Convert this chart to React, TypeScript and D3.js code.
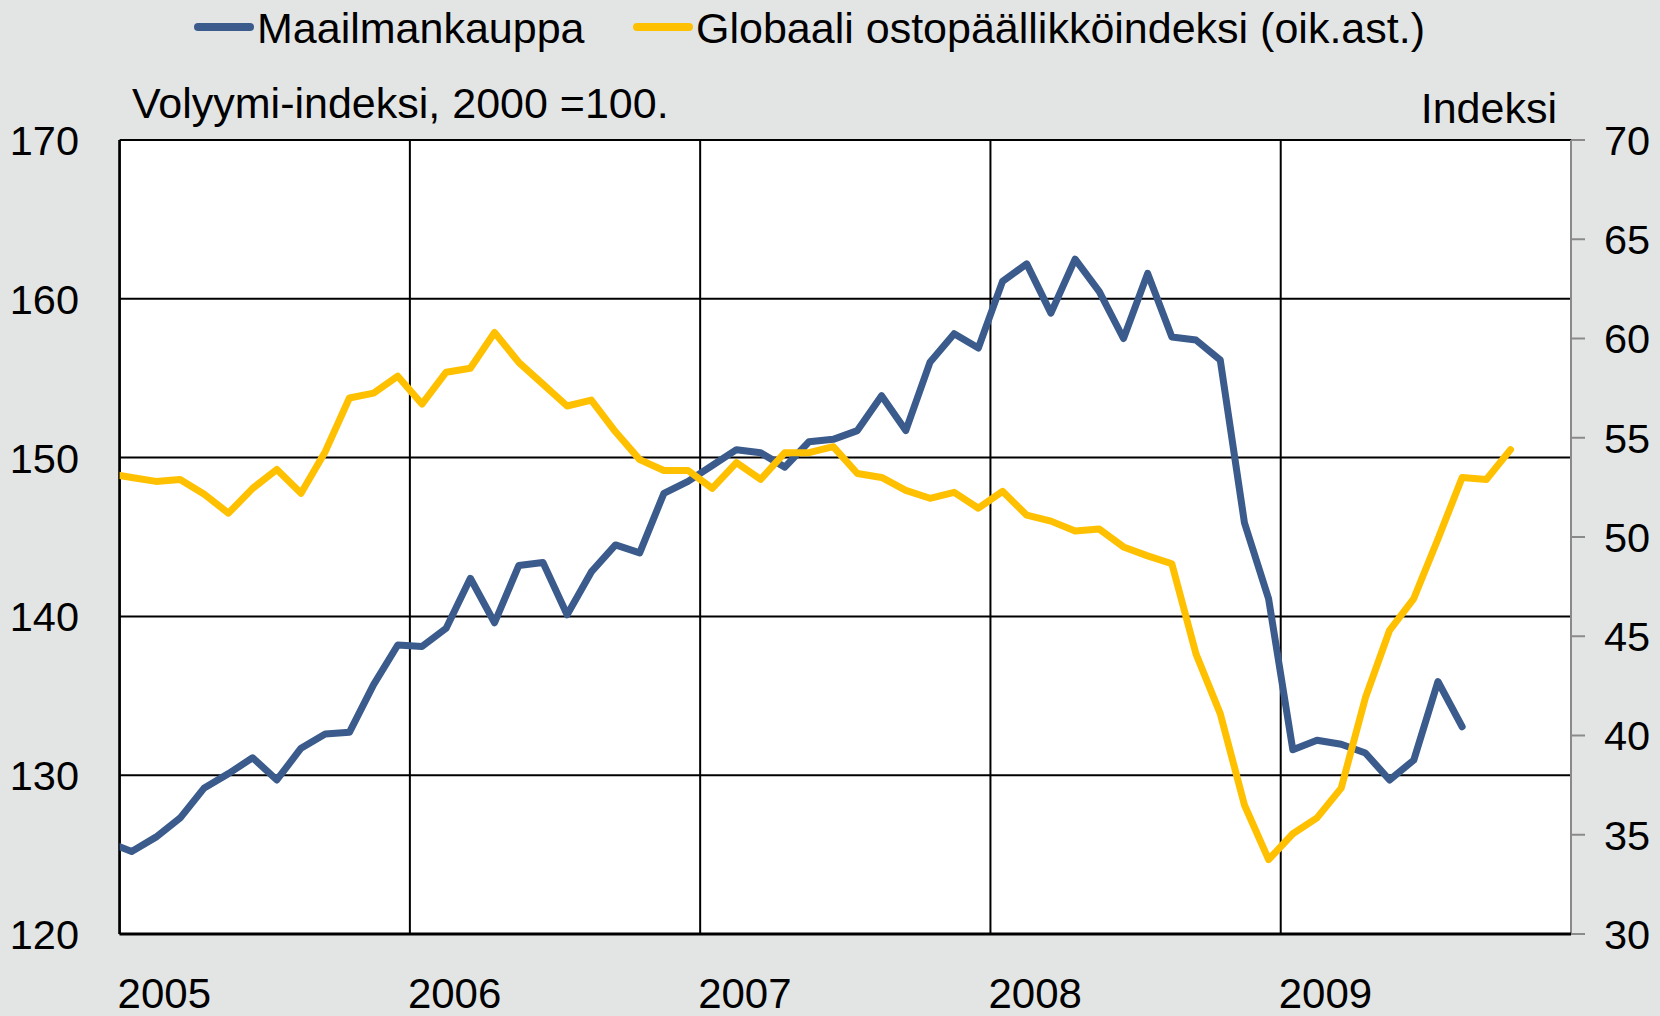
import React from "react";
import * as d3 from "d3";

// Monthly series, first value = Dec 2004
const startYear = 2004;
const startMonth = 11; // December (0-based)

const worldTrade: number[] = [
  125.8,
  125.2, 126.1, 127.3, 129.2, 130.1, 131.1, 129.7, 131.7, 132.6, 132.7, 135.7, 138.2,
  138.1, 139.25, 142.4, 139.6, 143.2, 143.4, 140.1, 142.8, 144.5, 144.0, 147.75, 148.5,
  149.5, 150.5, 150.3, 149.4, 151.0, 151.15, 151.7, 153.9, 151.7, 156.0, 157.8, 156.9,
  161.1, 162.2, 159.1, 162.5, 160.45, 157.5, 161.6, 157.6, 157.4, 156.15, 145.9, 141.1,
  131.6, 132.2, 131.95, 131.4, 129.7, 130.95, 135.9, 133.05,
];

const pmi: number[] = [
  53.2,
  53.0, 52.8, 52.9, 52.15, 51.2, 52.45, 53.4, 52.2, 54.3, 57.0, 57.25, 58.1,
  56.7, 58.3, 58.5, 60.3, 58.8, 57.7, 56.6, 56.9, 55.3, 53.9, 53.35, 53.35,
  52.45, 53.75, 52.9, 54.25, 54.25, 54.55, 53.2, 53.0, 52.35, 51.95, 52.25, 51.45,
  52.3, 51.1, 50.8, 50.3, 50.4, 49.5, 49.05, 48.65, 44.1, 41.1, 36.5, 33.75,
  35.05, 35.85, 37.35, 41.9, 45.3, 46.9, 49.9, 53.0, 52.9, 54.4,
];

const years = ["2005", "2006", "2007", "2008", "2009"];
const leftTicks = [120, 130, 140, 150, 160, 170];
const rightTicks = [30, 35, 40, 45, 50, 55, 60, 65, 70];

const seriesNames = ["Maailmankauppa", "Globaali ostopäällikköindeksi (oik.ast.)"];
const title = "Volyymi-indeksi, 2000 =100.";
const rightTitle = "Indeksi";

const BLUE = "#3A5B8C";
const YELLOW = "#FFC000";
const BG = "#E3E5E4";
const FONT = "'Liberation Sans', Arial, sans-serif";

export default function App() {
  const W = 1660;
  const H = 1016;
  const left = 119.6;
  const right = 1571;
  const top = 140;
  const bottom = 934;

  const x = d3.scaleLinear().domain([0, 60]).range([left, right]);
  const yL = d3.scaleLinear().domain([120, 170]).range([bottom, top]);
  const yR = d3.scaleLinear().domain([30, 70]).range([bottom, top]);

  // month offset relative to Jan 2005
  const offset = (startYear - 2005) * 12 + startMonth;
  const xi = (i: number) => x(offset + i + 0.5);

  const lineL = d3
    .line<number>()
    .x((_, i) => xi(i))
    .y((d) => yL(d));
  const lineR = d3
    .line<number>()
    .x((_, i) => xi(i))
    .y((d) => yR(d));

  return (
    <svg
      width={W}
      height={H}
      style={{ position: "absolute", left: 0, top: 0, display: "block" }}
      fontFamily={FONT}
    >
      <defs>
        <clipPath id="plotClip">
          <rect x={left} y={top - 10} width={right - left} height={bottom - top + 20} />
        </clipPath>
      </defs>
      <rect x={0} y={0} width={W} height={H} fill={BG} />
      <rect x={left} y={top} width={right - left} height={bottom - top} fill="#FFFFFF" />

      {/* horizontal gridlines */}
      {leftTicks.map((v) => (
        <line key={"h" + v} x1={left} x2={right} y1={yL(v)} y2={yL(v)} stroke="#000" strokeWidth={2} />
      ))}
      {/* vertical gridlines */}
      {years.map((yr, k) => (
        <line key={"v" + yr} x1={x(k * 12)} x2={x(k * 12)} y1={top} y2={bottom} stroke="#000" strokeWidth={2} />
      ))}
      {/* left axis */}
      <line x1={left} x2={left} y1={top} y2={bottom} stroke="#000" strokeWidth={2.5} />
      {/* right axis */}
      <line x1={right} x2={right} y1={top} y2={bottom} stroke="#8A8A8A" strokeWidth={2} />
      {rightTicks.map((v) => (
        <line key={"rt" + v} x1={right} x2={right + 14} y1={yR(v)} y2={yR(v)} stroke="#8A8A8A" strokeWidth={2} />
      ))}
      {/* bottom axis */}
      <line x1={left} x2={right} y1={bottom} y2={bottom} stroke="#000" strokeWidth={3} />

      {/* series */}
      <g clipPath="url(#plotClip)">
        <path d={lineL(worldTrade) || ""} fill="none" stroke={BLUE} strokeWidth={7} strokeLinejoin="round" strokeLinecap="round" />
        <path d={lineR(pmi) || ""} fill="none" stroke={YELLOW} strokeWidth={7} strokeLinejoin="round" strokeLinecap="round" />
      </g>

      {/* left tick labels */}
      {leftTicks.map((v) => (
        <text key={"lt" + v} x={79} y={yL(v)} dy="0.36em" textAnchor="end" fontSize={41.5} fill="#000">
          {v}
        </text>
      ))}
      {/* right tick labels */}
      {rightTicks.map((v) => (
        <text key={"rl" + v} x={1604} y={yR(v)} dy="0.36em" textAnchor="start" fontSize={41.5} fill="#000">
          {v}
        </text>
      ))}
      {/* year labels */}
      {years.map((yr, k) => (
        <text key={"yl" + yr} x={x(k * 12) - 2} y={1008} textAnchor="start" fontSize={42} fill="#000">
          {yr}
        </text>
      ))}

      {/* axis titles */}
      <text x={132} y={118} fontSize={43} fill="#000">{title}</text>
      <text x={1557} y={123} fontSize={43} textAnchor="end" fill="#000">{rightTitle}</text>

      {/* legend */}
      <line x1={198} x2={250} y1={27} y2={27} stroke={BLUE} strokeWidth={8} strokeLinecap="round" />
      <text x={257} y={43} fontSize={43} fill="#000">{seriesNames[0]}</text>
      <line x1={637} x2={689} y1={27} y2={27} stroke={YELLOW} strokeWidth={8} strokeLinecap="round" />
      <text x={696} y={43} fontSize={43} fill="#000">{seriesNames[1]}</text>
    </svg>
  );
}
